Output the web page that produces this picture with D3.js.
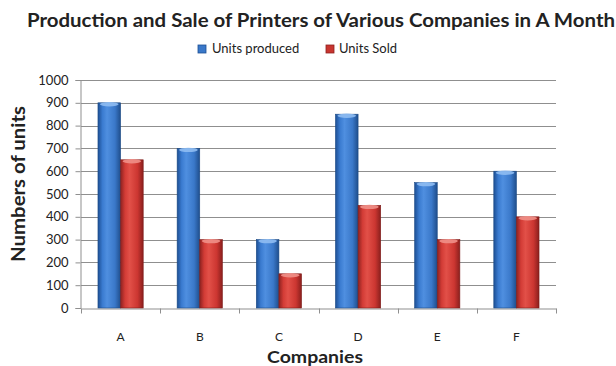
<!DOCTYPE html>
<html>
<head>
<meta charset="utf-8">
<script src="https://cdn.jsdelivr.net/npm/d3@7/dist/d3.min.js"></script>
<style>
  html, body { margin: 0; padding: 0; background: #fff; }
  svg { display: block; }
  text { font-family: Lato, "Open Sans", sans-serif; fill: #222; }
</style>
</head>
<body>
<svg id="chart" width="616" height="366"></svg>
<script>
// Chart data
const companies = ["A", "B", "C", "D", "E", "F"];
const seriesNames = ["Units produced", "Units Sold"];
const unitsProduced = [900, 700, 300, 850, 550, 600];
const unitsSold = [650, 300, 150, 450, 300, 400];
const yTicks = [0, 100, 200, 300, 400, 500, 600, 700, 800, 900, 1000];

const W = 616, H = 366;
const margin = { left: 81, right: 60, top: 80, bottom: 58 };
const svg = d3.select("#chart");

const x = d3.scaleBand().domain(companies)
  .range([margin.left, W - margin.right]).paddingInner(0).paddingOuter(0);
const inner = d3.scaleBand().domain(seriesNames)
  .range([0, x.bandwidth()]).paddingInner(0).paddingOuter(0.75);
const y = d3.scaleLinear().domain([0, 1000]).range([H - margin.bottom, margin.top]);

// Cylinder-like shading for each series
const defs = svg.append("defs");
const palettes = [
  { id: "gBlue", stops: ["#1d4f94", "#3a7bd0", "#4f8fe0", "#3a78c9", "#1f4e8c"], cap: "#8fbdf2" },
  { id: "gRed", stops: ["#8e2220", "#d33c36", "#e25048", "#cc3631", "#8a1f1d"], cap: "#f09088" }
];
palettes.forEach(p => {
  const g = defs.append("linearGradient").attr("id", p.id)
    .attr("x1", "0%").attr("x2", "100%").attr("y1", "0%").attr("y2", "0%");
  [0, 0.2, 0.4, 0.75, 1].forEach((o, i) =>
    g.append("stop").attr("offset", o).attr("stop-color", p.stops[i]));
});

// Gridlines
svg.append("g").selectAll("line").data(yTicks.filter(d => d > 0)).join("line")
  .attr("x1", margin.left).attr("x2", W - margin.right)
  .attr("y1", d => Math.round(y(d)) + 0.5).attr("y2", d => Math.round(y(d)) + 0.5)
  .attr("stroke", "#8f8f8f").attr("stroke-width", 1);

// Y axis
const yAxis = svg.append("g").attr("transform", `translate(${margin.left - 0.5},0)`)
  .call(d3.axisLeft(y).tickValues(yTicks).tickFormat(d3.format("d")).tickSize(5).tickPadding(7));
yAxis.select(".domain").attr("stroke", "#8f8f8f");
yAxis.selectAll(".tick line").attr("stroke", "#8f8f8f");
yAxis.selectAll(".tick text").style("font-family", "Lato, sans-serif")
  .style("font-size", "13px").attr("fill", "#333");

// X axis with ticks at category boundaries
const xAxis = svg.append("g").attr("transform", `translate(0,${y(0) + 0.5})`)
  .call(d3.axisBottom(x).tickSize(0).tickPadding(24));
xAxis.select(".domain").attr("stroke", "#8f8f8f");
xAxis.selectAll(".tick text").style("font-family", "Lato, sans-serif")
  .style("font-size", "12px").attr("fill", "#333");
xAxis.append("g").selectAll("line")
  .data(companies.map(c => x(c)).concat([x(companies[companies.length - 1]) + x.bandwidth()]))
  .join("line")
  .attr("x1", d => Math.round(d) + 0.5).attr("x2", d => Math.round(d) + 0.5)
  .attr("y1", 0).attr("y2", 5).attr("stroke", "#8f8f8f");

// Bars
const seriesValues = [unitsProduced, unitsSold];
seriesValues.forEach((vals, si) => {
  const g = svg.append("g");
  const bw = inner.bandwidth();
  g.selectAll("rect").data(companies).join("rect")
    .attr("x", (c) => x(c) + inner(seriesNames[si]))
    .attr("y", (c, i) => y(vals[i]))
    .attr("width", bw)
    .attr("height", (c, i) => y(0) - y(vals[i]))
    .attr("fill", `url(#${palettes[si].id})`)
    .attr("stroke", si === 0 ? "#1b4a85" : "#7e1c1a").attr("stroke-width", 0.6);
  g.selectAll("ellipse").data(companies).join("ellipse")
    .attr("cx", (c) => x(c) + inner(seriesNames[si]) + bw / 2)
    .attr("cy", (c, i) => y(vals[i]) + 1.5)
    .attr("rx", bw / 2 - 2).attr("ry", 2.2)
    .attr("fill", palettes[si].cap).attr("opacity", 0.9);
});

// Title
svg.append("text").attr("x", 27).attr("y", 27)
  .attr("textLength", 588).attr("lengthAdjust", "spacingAndGlyphs")
  .style("font-size", "19px").style("font-weight", "bold").attr("fill", "#111")
  .text("Production and Sale of Printers of Various Companies in A Month");

// Legend
const legend = svg.append("g");
const legendItems = [
  { name: seriesNames[0], sx: 198, tx: 212, color: "#3a78c9", edge: "#1d4f94" },
  { name: seriesNames[1], sx: 326, tx: 339, color: "#c83530", edge: "#8e2220" }
];
legendItems.forEach(it => {
  legend.append("rect").attr("x", it.sx).attr("y", 45).attr("width", 8).attr("height", 8)
    .attr("fill", it.color).attr("stroke", it.edge).attr("stroke-width", 0.8);
  legend.append("text").attr("x", it.tx).attr("y", 53)
    .style("font-size", "13px").attr("fill", "#333").text(it.name);
});

// Axis titles
svg.append("text")
  .attr("transform", "translate(25,184) rotate(-90)")
  .attr("text-anchor", "middle")
  .attr("textLength", 156).attr("lengthAdjust", "spacingAndGlyphs")
  .style("font-size", "18px").style("font-weight", "bold").attr("fill", "#111")
  .text("Numbers of units");
svg.append("text").attr("x", 315).attr("y", 363).attr("text-anchor", "middle")
  .attr("textLength", 96).attr("lengthAdjust", "spacingAndGlyphs")
  .style("font-size", "17px").style("font-weight", "bold").attr("fill", "#111")
  .text("Companies");
</script>
</body>
</html>
